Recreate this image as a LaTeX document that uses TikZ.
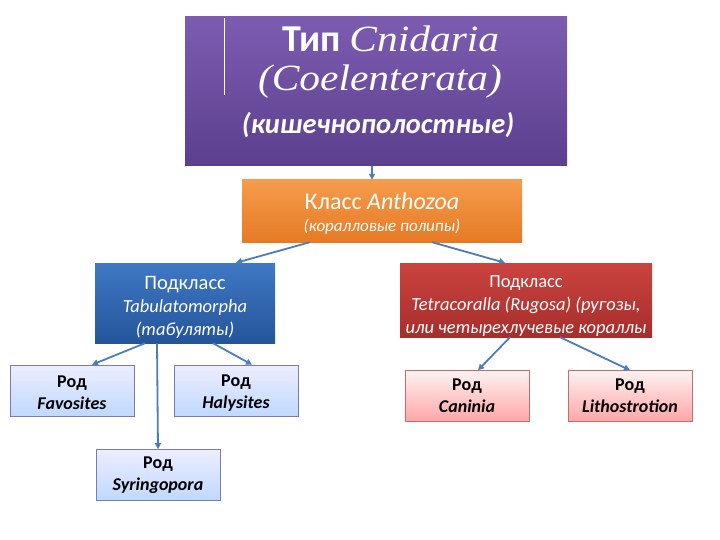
\documentclass[tikz,border=0pt]{standalone}
\usepackage{fontspec}
\setmainfont{Carlito}
\newfontfamily\timesfont[FakeStretch=1.12]{Liberation Serif}
\usetikzlibrary{arrows.meta}
\definecolor{linkblue}{HTML}{4A7EBB}
\definecolor{phylumtop}{HTML}{7C5CB0}
\definecolor{phylumbot}{HTML}{5C3F8E}
\definecolor{classtop}{HTML}{F59C4C}
\definecolor{classbot}{HTML}{E67A24}
\definecolor{tabtop}{HTML}{3F78C4}
\definecolor{tabbot}{HTML}{24559A}
\definecolor{rugtop}{HTML}{CB433F}
\definecolor{rugbot}{HTML}{A62E2B}
\begin{document}
\begin{tikzpicture}[x=1pt,y=-1pt,>={Triangle[length=6pt,width=6pt]},
  box/.style={draw=none,inner sep=0pt,align=center,text=white},
  taxon/.style={box,font=\fontsize{18.5}{23}\selectfont},
  genus/.style={draw,line width=.6pt,inner sep=0pt,align=center,
    minimum width=124pt,minimum height=51pt,font=\fontsize{18}{22}\selectfont\bfseries},
  tabgenus/.style={genus,draw=blue!30!gray!80,top color=blue!7,bottom color=blue!60!cyan!25},
  ruggenus/.style={genus,draw=red!45!gray!80,top color=red!5,bottom color=red!35},
  link/.style={->,linkblue,line width=1.8pt}]
\useasboundingbox (0,0) rectangle (720,540);
% phylum
\node[box,minimum width=382pt,minimum height=149pt,top color=phylumtop,bottom color=phylumbot]
  (phylum) at (376,91.5) {};
\draw[white,line width=.6pt] (224,18) -- (224,95);
\node[box,font=\fontsize{37}{39}\selectfont] (phylumname) at (380,62)
  {\hspace*{22pt}{\bfseries\fontsize{38}{39}\selectfont Тип} {\timesfont\itshape Cnidaria}\\
   {\timesfont\itshape (Coelenterata)}};
\node[box,font=\fontsize{28.5}{30}\selectfont\bfseries\itshape] (phylumru) at (378,125) {(кишечнополостные)};
% class
\node[box,minimum width=280pt,minimum height=62pt,top color=classtop,bottom color=classbot]
  (class) at (382,211)
  {\fontsize{24}{26}\selectfont\rule{0pt}{22pt}Класс \textit{Anthozoa}\\[8pt]
   \fontsize{17}{18}\selectfont\textit{(коралловые полипы)}};
% subclasses
\node[taxon,minimum width=180pt,minimum height=80pt,top color=tabtop,bottom color=tabbot]
  (tabul) at (185,303)
  {\fontsize{20.5}{24}\selectfont\rule{0pt}{21pt}Подкласс\\ \textit{Tabulatomorpha}\\ \textit{(табуляты)}};
\node[taxon,minimum width=252pt,minimum height=74pt,top color=rugtop,bottom color=rugbot]
  (rugosa) at (526,300)
  {\rule{0pt}{23pt}Подкласс\\ \textit{Tetracoralla (Rugosa) (ругозы,}\\ \textit{или четырехлучевые кораллы}};
% genera
\node[tabgenus] (favosites) at (72,390.5) {\rule{0pt}{16pt}Род\\ \textit{Favosites}};
\node[tabgenus] (halysites) at (236,390.5) {\rule{0pt}{16pt}Род\\ \textit{Halysites}};
\node[tabgenus] (syringopora) at (158,475) {Род\\ \textit{Syringopora}};
\node[ruggenus] (caninia) at (467,396) {Род\\ \textit{Caninia}};
\node[ruggenus] (lithostrotion) at (630,396) {Род\\ \textit{Lithostrotion}};
% links
\draw[link] (phylum.south -| 372,0) -- (class.north -| 372,0);
\draw[link] (class.south -| 310,0) -- (tabul.north -| 236,0);
\draw[link] (class.south -| 432,0) -- (rugosa.north -| 505,0);
\draw[link] (tabul.south -| 145,0) -- (favosites.north -| 92,0);
\draw[link] (tabul.south -| 213,0) -- (halysites.north -| 252,0);
\draw[link] (tabul.south -| 157,0) -- (syringopora.north);
\draw[link] (rugosa.south -| 510,0) -- (caninia.north -| 478,0);
\draw[link] (rugosa.south -| 560,0) -- (lithostrotion.north);
\end{tikzpicture}
\end{document}
